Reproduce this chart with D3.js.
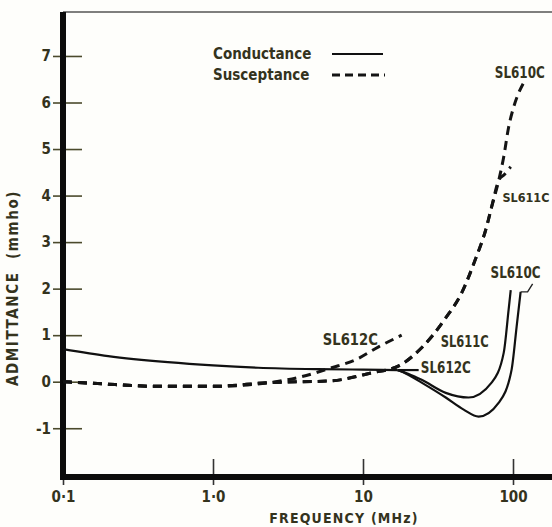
<!DOCTYPE html>
<html>
<head>
<meta charset="utf-8">
<script src="https://cdn.jsdelivr.net/npm/d3@7"></script>
<style>
  body { margin: 0; background: #fefefb; }
  svg { display: block; }
  text { font-family: "DejaVu Sans Condensed", "DejaVu Sans", sans-serif; font-stretch: condensed; font-weight: bold; fill: #34331d; }
</style>
</head>
<body>
<svg id="chart" width="552" height="527"></svg>
<script>
// frequency (MHz), admittance (mmho)
const condCommon = [[0.1, 0.70], [0.2, 0.55], [0.5, 0.42], [1, 0.35], [2, 0.30], [5, 0.27], [10, 0.26], [17, 0.25]];
const condSL612C = [[17, 0.25], [23.5, 0.25]];
const condSL611C = [[17, 0.25], [20, 0.17], [24.6, 0.04], [35.6, -0.24], [50.6, -0.34], [72, -0.02], [86.7, 0.62], [93.5, 1.55], [96.6, 1.97]];
const condSL610C = [[17, 0.25], [20, 0.15], [24.6, -0.02], [35.6, -0.34], [46.9, -0.6], [59, -0.75], [80.4, -0.45], [97.9, 0.26], [105.7, 1.18], [112.4, 1.93]];

const suscCommon = [[0.1, 0], [0.17, -0.04], [0.43, -0.1], [1, -0.1], [2.36, -0.02]];
const suscSL612C = [[2.36, -0.02], [3.7, 0.09], [6.17, 0.30], [8.9, 0.47], [12.7, 0.75], [18.1, 1.0]];
const suscShared = [[2.36, -0.02], [6.17, 0.02], [11.4, 0.19], [17.3, 0.34], [24.6, 0.73], [35.6, 1.37], [45.5, 1.91], [56, 2.62], [66.7, 3.33], [72.1, 3.76], [80.4, 4.33]];
const suscSL610C = [[80.4, 4.33], [86.7, 4.83], [93.5, 5.47], [101, 5.9], [108.9, 6.2], [117.5, 6.42]];
const suscSL611C = [[80.4, 4.33], [88, 4.46], [96.6, 4.62]];

const xTicks = [0.1, 1, 10, 100];
const xTickLabels = ["0\u00b71", "1\u00b70", "10", "100"];
const yTicks = [-1, 0, 1, 2, 3, 4, 5, 6, 7];

var svg = d3.select("#chart");
var x = d3.scaleLog().domain([0.1, 100]).range([63, 513]);
var y = d3.scaleLinear().domain([-2.048, 7.945]).range([477, 12]);

// top border
svg.append("line")
  .attr("x1", x(0.1)).attr("x2", 552)
  .attr("y1", y(7.945)).attr("y2", y(7.945))
  .attr("stroke", "#555").attr("stroke-width", 1.5);

// y axis
var gy = svg.append("g")
  .attr("transform", "translate(" + x(0.1) + ",0)")
  .call(d3.axisLeft(y).tickValues(yTicks).tickFormat(function(d) { return d < 0 ? "-" + (-d) : "" + d; }).tickSize(10).tickPadding(2));
gy.select(".domain").remove();
gy.selectAll(".tick line").attr("x1", -10).attr("x2", 19).attr("stroke", "#4b4a2c").attr("stroke-width", 1.6);
gy.selectAll(".tick text").attr("font-size", 15).attr("fill", "#34331d");

// x axis
var gx = svg.append("g")
  .attr("transform", "translate(0," + y(-2.048) + ")")
  .call(d3.axisBottom(x).tickValues(xTicks).tickFormat(function(d, i) { return xTickLabels[i]; }).tickSize(8).tickPadding(6));
gx.select(".domain").remove();
gx.selectAll(".tick line").attr("y1", -18).attr("y2", 8).attr("stroke", "#333").attr("stroke-width", 1.6);
gx.selectAll(".tick text").attr("font-size", 15).attr("fill", "#34331d");

// thick axis lines
svg.append("line")
  .attr("x1", x(0.1)).attr("x2", x(0.1))
  .attr("y1", y(7.945)).attr("y2", y(-2.048) + 3)
  .attr("stroke", "#0c0c0c").attr("stroke-width", 6);
svg.append("line")
  .attr("x1", x(0.1) - 3).attr("x2", 552)
  .attr("y1", y(-2.048)).attr("y2", y(-2.048))
  .attr("stroke", "#0c0c0c").attr("stroke-width", 6);

// axis titles
svg.append("text")
  .attr("x", 344).attr("y", 518).attr("dy", "0.35em")
  .attr("text-anchor", "middle").attr("font-size", 14).attr("letter-spacing", 1.2)
  .text("FREQUENCY (MHz)");
svg.append("text")
  .attr("transform", "translate(13,288) rotate(-90)")
  .attr("dy", "0.35em")
  .attr("text-anchor", "middle").attr("font-size", 15).attr("letter-spacing", 1.6)
  .text("ADMITTANCE\u00a0\u00a0(mmho)");

// curves
var line = d3.line()
  .x(function(d) { return x(d[0]); })
  .y(function(d) { return y(d[1]); })
  .curve(d3.curveMonotoneX);

var solids = [condCommon, condSL612C, condSL611C, condSL610C];
svg.selectAll(".cond")
  .data(solids)
  .enter().append("path")
  .attr("class", "cond")
  .attr("d", line)
  .attr("fill", "none")
  .attr("stroke", "#111")
  .attr("stroke-width", 2.2);

var dashed = [suscCommon.concat(suscSL612C.slice(1)),
              suscCommon.concat(suscShared.slice(1), suscSL610C.slice(1)),
              suscCommon.concat(suscShared.slice(1), suscSL611C.slice(1))];
svg.selectAll(".susc")
  .data(dashed)
  .enter().append("path")
  .attr("class", "susc")
  .attr("d", line)
  .attr("fill", "none")
  .attr("stroke", "#141414")
  .attr("stroke-width", 3)
  .attr("stroke-dasharray", "9,6");

// leader at top of SL610C conductance
var top610 = condSL610C[condSL610C.length - 1];
svg.append("path")
  .attr("d", "M" + x(top610[0]) + "," + y(top610[1]) + "h7l5,-8")
  .attr("fill", "none").attr("stroke", "#222").attr("stroke-width", 1.4);

// series labels
var labels = [
  { t: "SL610C", f: 111, v: 6.63, a: "middle", w: 50, s: 15 },
  { t: "SL611C", f: 85, v: 3.95, a: "start", w: 47, s: 13 },
  { t: "SL610C", f: 104, v: 2.35, a: "middle", w: 50, s: 15 },
  { t: "SL611C", f: 33, v: 0.86, a: "start", w: 48, s: 15 },
  { t: "SL612C", f: 24.3, v: 0.29, a: "start", w: 50, s: 15 },
  { t: "SL612C", f: 5.4, v: 0.9, a: "start", w: 55, s: 15 }
];
svg.selectAll(".lbl")
  .data(labels)
  .enter().append("text")
  .attr("class", "lbl")
  .attr("x", function(d) { return x(d.f); })
  .attr("y", function(d) { return y(d.v); })
  .attr("dy", "0.35em")
  .attr("text-anchor", function(d) { return d.a; })
  .attr("font-size", function(d) { return d.s; })
  .attr("textLength", function(d) { return d.w; })
  .attr("lengthAdjust", "spacingAndGlyphs")
  .text(function(d) { return d.t; });

// legend
var legend = svg.append("g").attr("transform", "translate(213,54)");
legend.append("text").attr("x", 0).attr("y", 0).attr("dy", "0.35em").attr("font-size", 15).text("Conductance");
legend.append("text").attr("x", 0).attr("y", 21).attr("dy", "0.35em").attr("font-size", 15).text("Susceptance");
legend.append("line").attr("x1", 119).attr("x2", 170).attr("y1", 0).attr("y2", 0)
  .attr("stroke", "#111").attr("stroke-width", 2.2);
legend.append("line").attr("x1", 119).attr("x2", 172).attr("y1", 21).attr("y2", 21)
  .attr("stroke", "#141414").attr("stroke-width", 3).attr("stroke-dasharray", "8,5");
</script>
</body>
</html>
